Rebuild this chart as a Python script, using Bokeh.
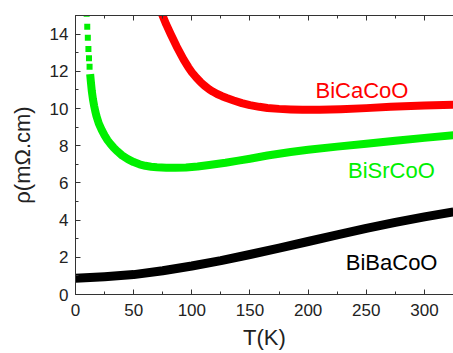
from bokeh.plotting import figure
from bokeh.models import (Range1d, LinearAxis, SingleIntervalTicker, ColumnDataSource,
                          CustomLabelingPolicy)
from bokeh.core.properties import value
from bokeh.embed import file_html
from bokeh.resources import INLINE

# Resistivity vs temperature for three cobaltites
T_ba = [0, 25, 50, 75, 100, 125, 150, 175, 200, 225, 250, 275, 300, 325]
rho_ba = [0.88, 0.96, 1.07, 1.28, 1.53, 1.82, 2.15, 2.49, 2.85, 3.2, 3.56, 3.88, 4.17, 4.44]

T_ca = [73.5, 74.5, 78, 82, 87, 93, 97, 100, 104, 107.5, 111, 115, 118, 121.8, 126, 130,
        136, 143, 150, 158, 165, 175, 185, 195, 210, 228, 250, 271, 300, 325]
rho_ca = [15.22, 15.05, 14.52, 13.98, 13.33, 12.63, 12.22, 11.95, 11.65, 11.42, 11.22, 11.03,
          10.91, 10.78, 10.66, 10.56, 10.43, 10.29, 10.18, 10.09, 10.03, 9.98, 9.95, 9.93,
          9.93, 9.96, 10.02, 10.09, 10.16, 10.2]

# sparse low-temperature points of BiSrCoO
T_sr_pts = [9.6, 10.1, 10.6, 11.1, 11.6, 12.1]
rho_sr_pts = [15.1, 14.4, 13.8, 13.2, 12.7, 12.25]

T_sr = [12.6, 13.2, 14, 15, 16, 17, 18, 20, 22.5, 25, 27.5, 30, 33, 36, 40, 45, 50, 55,
        60, 65, 70, 78, 86, 95, 105, 115, 129, 140, 150, 165, 185, 200, 225, 250, 275,
        300, 325]
rho_sr = [11.85, 11.45, 10.95, 10.5, 10.15, 9.85, 9.6, 9.2, 8.85, 8.55, 8.3, 8.1, 7.88,
          7.7, 7.48, 7.28, 7.12, 7.0, 6.92, 6.87, 6.84, 6.81, 6.81, 6.83, 6.88, 6.96, 7.08,
          7.2, 7.3, 7.47, 7.66, 7.78, 7.95, 8.1, 8.27, 8.42, 8.57]

labels = ["BiCaCoO", "BiSrCoO", "BiBaCoO"]
label_T = [246.3, 271.6, 271.8]
label_rho = [10.95, 6.64, 1.74]
label_colors = ["#ff0000", "#00f000", "#000000"]

x_ticks_step = 50
y_ticks_step = 2

FONT = "Liberation Sans"

p = figure(width=453, height=353, output_backend="svg", toolbar_location=None,
           x_range=Range1d(0, 325), y_range=Range1d(0, 15),
           x_axis_type=None, y_axis_type=None,
           min_border_left=75, min_border_right=0, min_border_top=9, min_border_bottom=59)
p.outline_line_color = None
p.xgrid.visible = False
p.ygrid.visible = False
p.background_fill_color = "white"
p.border_fill_color = "white"


def style_axis(ax):
    ax.major_tick_in = 5
    ax.major_tick_out = 0
    ax.minor_tick_in = 3
    ax.minor_tick_out = 0
    ax.axis_line_color = "#333333"
    ax.major_tick_line_color = "#333333"
    ax.minor_tick_line_color = "#333333"
    ax.major_label_text_font = FONT
    ax.major_label_text_font_size = "17px"
    ax.major_label_text_color = "#222222"
    ax.axis_label_text_font = FONT
    ax.axis_label_text_font_size = "22px"
    ax.axis_label_text_font_style = "normal"
    ax.axis_label_text_color = "#222222"


xb = LinearAxis(ticker=SingleIntervalTicker(interval=x_ticks_step, num_minor_ticks=2), axis_label="T(K)")
style_axis(xb)
xb.major_label_standoff = 9
xb.axis_label_standoff = 6
p.add_layout(xb, "below")

yl = LinearAxis(ticker=SingleIntervalTicker(interval=y_ticks_step, num_minor_ticks=2), axis_label="ρ(mΩ.cm)")
style_axis(yl)
yl.major_label_standoff = 7
yl.axis_label_standoff = 12
p.add_layout(yl, "left")

# top frame edge: ticks only, every label suppressed
xt = LinearAxis(ticker=SingleIntervalTicker(interval=x_ticks_step, num_minor_ticks=2))
style_axis(xt)
xt.major_label_standoff = 0
xt.major_label_policy = CustomLabelingPolicy(code="""
    for (const i of indices) {
        indices.unset(i)
    }
    return indices
""")
p.add_layout(xt, "above")

# curves
p.line(T_ca, rho_ca, line_color="#ff0000", line_width=8, line_join="round")
p.line(T_sr, rho_sr, line_color="#00f000", line_width=8, line_join="round")
p.scatter(T_sr_pts, rho_sr_pts, marker="square", size=6, fill_color="#00f000", line_color=None)
p.line(T_ba, rho_ba, line_color="#000000", line_width=9, line_join="round")

src = ColumnDataSource(dict(x=label_T, y=label_rho, t=labels, c=label_colors))
p.text(x="x", y="y", text="t", text_color="c", source=src,
       text_font=value(FONT), text_font_size="22px",
       text_align="center", text_baseline="alphabetic")

open("out.html", "w").write(file_html(p, INLINE))
